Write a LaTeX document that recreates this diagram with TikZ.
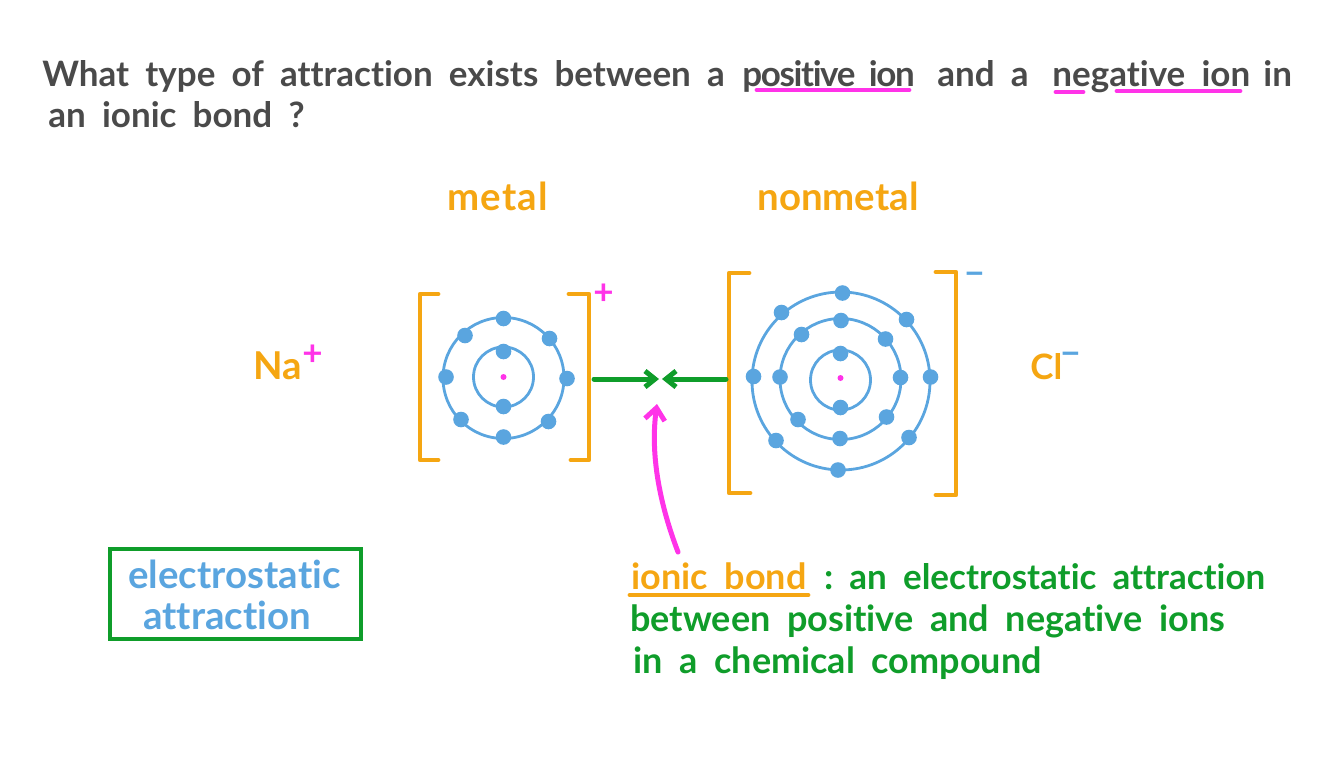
\documentclass[tikz,border=0pt]{standalone}
\usepackage{fontspec}
\setmainfont{Lato}[WordSpace=1.9,BoldFont={Lato Bold},Ligatures=NoCommon]
\usetikzlibrary{arrows.meta}
\definecolor{inkgrey}{HTML}{4A4A4A}
\definecolor{inkorange}{HTML}{F5A612}
\definecolor{inkblue}{HTML}{5AA5DF}
\definecolor{inkgreen}{HTML}{0F9D2A}
\definecolor{inkpink}{HTML}{FF33E8}
\tikzset{
	electron/.style={fill=inkblue,circle,inner sep=0pt,minimum size=7.8pt},
	nucleus/.style={fill=inkpink,circle,inner sep=0pt,minimum size=3pt},
	shell/.style={draw=inkblue,line width=1.4pt},
	bracket/.style={draw=inkorange,line width=2.4pt,line cap=round,line join=round},
	words/.style={font=\bfseries\fontsize{17.5}{20}\selectfont,anchor=base west,inner sep=0pt,text=#1},
	defwords/.style={words=#1,font=\bfseries\fontsize{18}{20}\selectfont},
	labelwords/.style={words=#1,font=\bfseries\fontsize{19.2}{22}\selectfont},
	pull/.style={draw=inkgreen,line width=2.5pt,line cap=round,-{Straight Barb[length=5pt,width=8pt]}},
	mark line/.style={draw=#1,line width=2.4pt,line cap=round}
}
\begin{document}
\begin{tikzpicture}[x=0.5pt,y=-0.5pt]
	\useasboundingbox (0, 0) rectangle (1344, 756);
	%question
	\node[words=inkgrey] (question1) at (42, 86) {What type of attraction exists between a};
	\node[words=inkgrey] (positive) at (742, 86) {\addfontfeature{LetterSpace=-4}positive ion};
	\node[words=inkgrey] (question2) at (937, 86) {and a};
	\node[words=inkgrey] (negative) at (1052, 86) {negative ion};
	\node[words=inkgrey] (question3) at (1263, 86) {in};
	\node[words=inkgrey] (question4) at (48, 127) {an ionic bond ?};
	\draw[mark line=inkpink] (757, 90) -- (909, 90);
	\draw[mark line=inkpink] (1056, 92) -- (1083, 92);
	\draw[mark line=inkpink] (1117, 91) -- (1240, 91);
	%labels
	\node[labelwords=inkorange] (metal) at (447, 210) {\addfontfeature{LetterSpace=3}metal};
	\node[labelwords=inkorange] (nonmetal) at (757, 210) {nonmetal};
	\node[labelwords=inkorange] (na) at (253, 379) {Na};
	\node[words=inkpink] (naplus) at (302, 365) {+};
	\node[words=inkorange] (cl) at (1030, 379) {Cl};
	\node[words=inkblue] (clminus) at (1060, 365) {\textminus};
	%Na ion
	\draw[shell] (503.5, 377) circle (30);
	\draw[shell] (503.5, 378) circle (60.5);
	\node[nucleus] (nacore) at (503.5, 377) {};
	\draw
		(503.5, 351.5) node [electron] (na1) {}
		(503.5, 406.5) node [electron] (na2) {}
		(503.5, 318.5) node [electron] (na3) {}
		(549.5, 338.5) node [electron] (na4) {}
		(567, 378.5) node [electron] (na5) {}
		(548.5, 421.5) node [electron] (na6) {}
		(503.5, 437) node [electron] (na7) {}
		(461, 419.5) node [electron] (na8) {}
		(446, 377) node [electron] (na9) {}
		(465, 335.5) node [electron] (na10) {};
	\draw[bracket] (438, 294) -- (420, 294) -- (420, 460) -- (438, 460);
	\draw[bracket] (569, 294) -- (589, 294) -- (589, 460) -- (571, 460);
	\node[words=inkpink] (ionplus) at (593, 304) {+};
	%Cl ion
	\draw[shell] (840.5, 380) circle (30);
	\draw[shell] (840.5, 379) circle (60.5);
	\draw[shell] (841, 381) circle (89);
	\node[nucleus] (clcore) at (840.5, 378) {};
	\draw
		(840.5, 353.5) node [electron] (cl1) {}
		(840.5, 407.5) node [electron] (cl2) {}
		(841, 320.5) node [electron] (cl3) {}
		(885.5, 339) node [electron] (cl4) {}
		(900.5, 377.5) node [electron] (cl5) {}
		(886.5, 417) node [electron] (cl6) {}
		(840, 438.5) node [electron] (cl7) {}
		(798, 419.5) node [electron] (cl8) {}
		(780, 377) node [electron] (cl9) {}
		(801.5, 334.5) node [electron] (cl10) {}
		(842.5, 293) node [electron] (cl11) {}
		(906.5, 319.5) node [electron] (cl12) {}
		(930.5, 377) node [electron] (cl13) {}
		(909, 437.5) node [electron] (cl14) {}
		(838, 470) node [electron] (cl15) {}
		(776, 440.5) node [electron] (cl16) {}
		(753.5, 376.5) node [electron] (cl17) {}
		(781.5, 312.5) node [electron] (cl18) {};
	\draw[bracket] (749, 273) -- (729, 273) -- (729, 493) -- (750, 493);
	\draw[bracket] (936, 272) -- (956, 272) -- (956, 495) -- (936, 495);
	\node[words=inkblue] (ionminus) at (964, 285) {\textminus};
	%attraction
	\coordinate (naside) at (594, 379);
	\coordinate (clside) at (726, 379);
	\coordinate (bondleft) at (659, 379);
	\coordinate (bondright) at (662, 379);
	\draw[pull] (naside) -- (bondleft);
	\draw[pull] (clside) -- (bondright);
	%definition
	\node[defwords=inkorange] (ionicbond) at (631, 589) {ionic bond};
	\node[defwords=inkgreen] (colon) at (824, 589) {:};
	\node[words=inkgreen] (def1) at (849, 589) {an electrostatic attraction};
	\node[defwords=inkgreen] (def2) at (630, 631) {between positive and negative ions};
	\node[defwords=inkgreen] (def3) at (633, 673) {in a chemical compound};
	\draw[mark line=inkorange] (630, 595) -- (808, 595);
	\coordinate (arrowstart) at (678, 552);
	\coordinate (arrowtip) at (657, 404);
	\draw[draw=inkpink,line width=2.5pt,line cap=round,-{Straight Barb[length=6pt,width=10pt]}] (arrowstart) .. controls (660, 505) and (650, 455) .. (arrowtip);
	%answer
	\node[draw=inkgreen,line width=2.4pt,minimum width=125.5pt,minimum height=45pt,inner sep=0pt] (answerbox) at (235.5, 594) {};
	\node[labelwords=inkblue] (answer1) at (128, 588) {electrostatic};
	\node[labelwords=inkblue] (answer2) at (143, 629) {attraction};
\end{tikzpicture}
\end{document}
